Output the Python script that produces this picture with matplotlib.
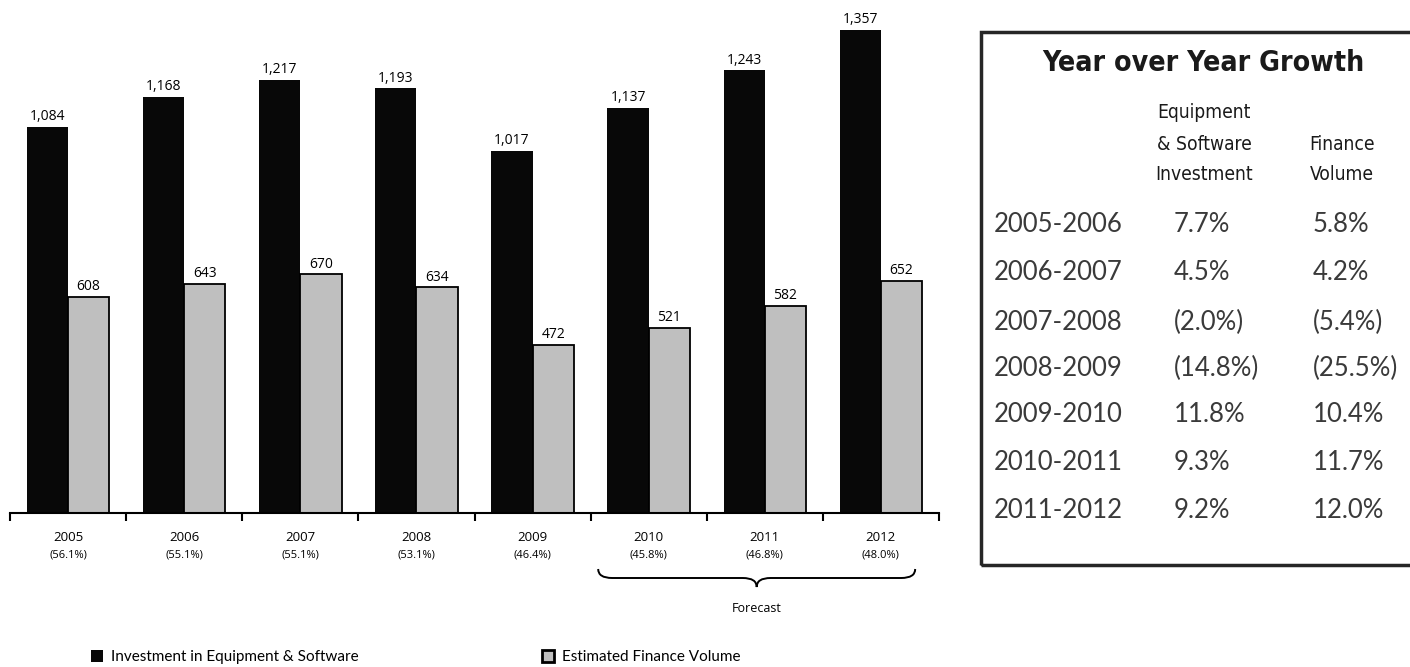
import matplotlib
matplotlib.use('Agg')
import matplotlib.pyplot as plt
import numpy as np
from matplotlib.path import Path
from matplotlib.patches import PathPatch, Rectangle
from matplotlib.transforms import blended_transform_factory
from matplotlib import font_manager as fm

# données du graphique
years = ['2005', '2006', '2007', '2008', '2009', '2010', '2011', '2012']
share = ['(56.1%)', '(55.1%)', '(55.1%)', '(53.1%)', '(46.4%)', '(45.8%)', '(46.8%)', '(48.0%)']
investment = [1084, 1168, 1217, 1193, 1017, 1137, 1243, 1357]
finance = [608, 643, 670, 634, 472, 521, 582, 652]

# tableau de croissance
periods = ['2005-2006', '2006-2007', '2007-2008', '2008-2009', '2009-2010', '2010-2011', '2011-2012']
growth_inv = ['7.7%', '4.5%', '(2.0%)', '(14.8%)', '11.8%', '9.3%', '9.2%']
growth_fin = ['5.8%', '4.2%', '(5.4%)', '(25.5%)', '10.4%', '11.7%', '12.0%']

W, H = 1410, 667
names = {f.name for f in fm.fontManager.ttflist}
body = 'Open Sans' if 'Open Sans' in names else 'DejaVu Sans'
narrow = 'Liberation Sans Narrow' if 'Liberation Sans Narrow' in names else 'DejaVu Sans'
light = 'Lato' if 'Lato' in names else 'DejaVu Sans'
plt.rcParams['font.family'] = [body, 'DejaVu Sans']


def px(x, y):
    return x / W, 1 - y / H


fig = plt.figure(figsize=(W / 100, H / 100), dpi=100)
ax = fig.add_axes([10 / W, (H - 513) / H, 929 / W, 513 / H])

x = np.arange(len(years)) + 0.5
w = 0.355
b1 = ax.bar(x - w / 2, investment, w, color='#080808', label='Investment in Equipment & Software')
b2 = ax.bar(x + w / 2, finance, w, color='#bfbfbf', edgecolor='black', linewidth=1.3,
            label='Estimated Finance Volume')
ax.bar_label(b1, labels=[f'{v:,}' for v in investment], padding=2, fontsize=10)
ax.bar_label(b2, labels=[f'{v:,}' for v in finance], padding=2, fontsize=10)

ax.set_xlim(0, len(years))
ax.set_ylim(0, 1441)
for s in ['top', 'left', 'right']:
    ax.spines[s].set_visible(False)
ax.spines['bottom'].set_linewidth(1.5)
ax.set_yticks([])
ax.set_xticks(np.arange(len(years) + 1))
ax.set_xticklabels([])
ax.tick_params(axis='x', which='major', length=6, width=1.5, direction='out')
ax.set_xticks(x, minor=True)
ax.set_xticklabels(years, minor=True, fontsize=9.5)
ax.tick_params(axis='x', which='minor', length=0, pad=13)
for xi, s in zip(x, share):
    ax.annotate(s, (xi, 0), xytext=(0, -30), textcoords='offset points',
                ha='center', va='center', fontsize=8, annotation_clip=False)

# accolade "Forecast"
tr = blended_transform_factory(ax.transData, fig.transFigure)
x0, x1 = 5.065, 7.795
xm = (x0 + x1) / 2
d = 0.12
y0, y1, y2 = 1 - 569 / H, 1 - 578 / H, 1 - 587 / H
verts = [(x0, y0), (x0, y1), (x0 + d, y1), (xm - d, y1), (xm, y1), (xm, y2),
         (xm, y1), (xm + d, y1), (x1 - d, y1), (x1, y1), (x1, y0)]
codes = [Path.MOVETO, Path.CURVE3, Path.CURVE3, Path.LINETO, Path.CURVE3, Path.CURVE3,
         Path.CURVE3, Path.CURVE3, Path.LINETO, Path.CURVE3, Path.CURVE3]
brace = PathPatch(Path(verts, codes), transform=tr, fill=False, lw=1.4, ec='black', clip_on=False)
fig.add_artist(brace)
ax.text(xm, 1 - 608 / H, 'Forecast', transform=tr, ha='center', va='center', fontsize=9)

# légende
leg_kw = dict(loc='center left', frameon=False, handlelength=0.8, handleheight=0.8,
              handletextpad=0.5, borderpad=0, borderaxespad=0,
              prop={'family': [light, 'DejaVu Sans'], 'size': 11})
fig.legend(handles=[b1], bbox_to_anchor=px(91, 657), **leg_kw)
lg2 = fig.legend(handles=[b2], bbox_to_anchor=px(542, 657), **leg_kw)
lg2.legend_handles[0].set_linewidth(2)

# tableau Year over Year Growth
box = Rectangle(px(981, 565), (1425 - 981) / W, (565 - 32) / H, transform=fig.transFigure,
                fill=False, lw=2.5, ec='#262626', clip_on=False)
fig.add_artist(box)

title = fig.text(*px(1203, 63), 'Year over Year Growth', ha='center', va='center',
                 fontsize=28, fontweight='bold', fontstretch='condensed',
                 family=[narrow, 'DejaVu Sans'], color='#1a1a1a')
hdr = dict(ha='center', va='center', fontsize=16, fontstretch='condensed',
           family=[narrow, 'DejaVu Sans'], color='#1a1a1a')
h1 = []
for txt, yy in zip(['Equipment', '& Software', 'Investment'], [112, 145, 175]):
    h1.append(fig.text(*px(1204, yy), txt, **hdr))
for txt, yy in zip(['Finance', 'Volume'], [145, 175]):
    h1.append(fig.text(*px(1342, yy), txt, **hdr))

row_y = [225, 273, 322, 368, 415, 463, 510]
rkw = dict(ha='left', va='center', fontsize=18.5, fontweight='normal',
           family=[light, 'DejaVu Sans'], color='#3a3a3a')
for p, gi, gf, yy in zip(periods, growth_inv, growth_fin, row_y):
    fig.text(*px(994, yy), p, **rkw)
    fig.text(*px(1174, yy), gi, **rkw)
    fig.text(*px(1313, yy), gf, **rkw)

# ajuster la largeur des textes condensés si la police est trop large
fig.canvas.draw()
r = fig.canvas.get_renderer()
bw = title.get_window_extent(r).width
if bw > 322:
    title.set_fontsize(28 * 322 / bw)
bw = h1[2].get_window_extent(r).width
if bw > 98:
    for t in h1:
        t.set_fontsize(16 * 98 / bw)

fig.savefig('out.png', dpi=100)
